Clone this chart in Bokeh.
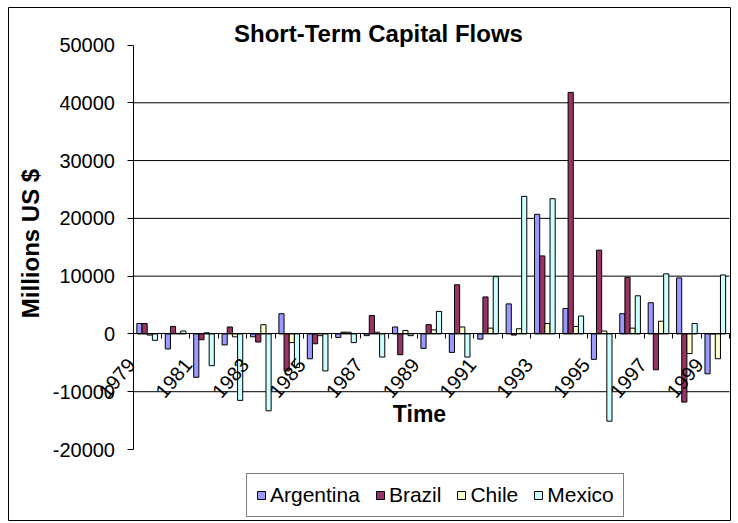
import math
from bokeh.plotting import figure
from bokeh.models import (Range1d, FixedTicker, Legend, LegendItem, LinearAxis,
                          ColumnDataSource, NumeralTickFormatter, Label, Grid)
from bokeh.transform import dodge
from bokeh.embed import file_html
from bokeh.resources import INLINE

# ---- data (millions US $) ----
years = list(range(1979, 2000))
argentina = [1800, -2600, -7500, -1900, -500, 3500, -4300, -600, -300, 1200,
             -2500, -3200, -900, 5200, 20700, 4400, -4400, 3500, 5400, 9700, -6900]
brazil = [1800, 1300, -1000, 1200, -1400, -6400, -1700, 300, 3200, -3600,
          1600, 8500, 6400, -200, 13500, 41800, 14500, 9800, -6200, -11800, 0]
chile = [-200, 100, 200, -500, 1600, -1500, -300, 300, 300, 600,
         700, 1200, 1000, 900, 1800, 1300, 500, 1000, 2200, -3400, -4300]
mexico = [-1100, 500, -5500, -11500, -13300, -5800, -6400, -1500, -4000, -300,
          3900, -4000, 9900, 23800, 23400, 3100, -15100, 6600, 10400, 1800, 10200]
series_names = ["Argentina", "Brazil", "Chile", "Mexico"]
tick_years = years[::2]
tick_labels = [str(y) for y in tick_years]
y_ticks = [-20000, -10000, 0, 10000, 20000, 30000, 40000, 50000]
grid_ticks = [-10000, 10000, 20000, 30000, 40000]

colors = ["#9999FF", "#993366", "#FFFFCC", "#CCFFFF"]
FONT = "Liberation Sans"

# ---- layout geometry (pixels) ----
W, H = 738, 523
BOX_L, BOX_R, BOX_T, BOX_B = 8, 730, 7, 520          # chart-area border
PA_L, PA_R, PA_T, PA_B = 132.5, 729.0, 44.5, 449.0   # plot area

x_lo, x_hi = years[0] - 0.5, years[-1] + 0.5
y_lo, y_hi = y_ticks[0], y_ticks[-1]
sx = (PA_R - PA_L) / (x_hi - x_lo)
sy = (PA_B - PA_T) / (y_hi - y_lo)
x_range = Range1d(x_lo - (PA_L - BOX_L) / sx, x_hi + (BOX_R - PA_R) / sx)
y_range = Range1d(y_lo - (BOX_B - PA_B) / sy, y_hi + (PA_T - BOX_T) / sy)

src = ColumnDataSource(dict(year=years, Argentina=argentina, Brazil=brazil,
                            Chile=chile, Mexico=mexico))

p = figure(width=W, height=H, output_backend="svg", toolbar_location=None,
           title=None, x_range=x_range, y_range=y_range,
           x_axis_location=None, y_axis_location=None,
           min_border_left=BOX_L, min_border_right=W - BOX_R,
           min_border_top=BOX_T, min_border_bottom=H - BOX_B)
for r in list(p.center):
    if isinstance(r, Grid):
        r.visible = False
p.outline_line_color = "black"
p.outline_line_width = 1
p.background_fill_color = "white"
p.border_fill_color = "white"

# horizontal gridlines across the plot area only
p.segment(x0=[x_lo] * len(grid_ticks), x1=[x_hi] * len(grid_ticks),
          y0=grid_ticks, y1=grid_ticks, line_color="black", line_width=1)

bw = 1 / 5.5
offsets = [-1.5 * bw, -0.5 * bw, 0.5 * bw, 1.5 * bw]
items = []
for name, col, off in zip(series_names, colors, offsets):
    r = p.vbar(x=dodge("year", off, range=p.x_range), top=name, bottom=0,
               width=bw, source=src, fill_color=col, line_color="black",
               line_width=1)
    items.append(LegendItem(label=name, renderers=[r]))

# category axis crossing at zero, labels every other year
LAB_SHIFT = 0.5625
lab_pos = [y - LAB_SHIFT for y in tick_years]
xa = LinearAxis(fixed_location=0, bounds=(x_lo, x_hi))
xa.ticker = FixedTicker(ticks=lab_pos,
                        minor_ticks=[y - 0.5 for y in years] + [x_hi])
xa.major_label_overrides = {pos: lab for pos, lab in zip(lab_pos, tick_labels)}
xa.major_tick_out = 0
xa.major_tick_in = 0
xa.minor_tick_out = 5
xa.minor_tick_in = 0
xa.minor_tick_line_color = "black"
xa.axis_line_color = "black"
xa.major_label_orientation = 0.8727
xa.major_label_text_font = FONT
xa.major_label_text_font_size = "20px"
xa.major_label_text_color = "black"
xa.major_label_standoff = 22
p.add_layout(xa, "below")

ya = LinearAxis(fixed_location=x_lo, bounds=(y_lo, y_hi))
ya.ticker = FixedTicker(ticks=y_ticks, minor_ticks=[])
ya.formatter = NumeralTickFormatter(format="0")
ya.major_tick_out = 6
ya.major_tick_in = 0
ya.minor_tick_out = 0
ya.minor_tick_in = 0
ya.major_tick_line_color = "black"
ya.axis_line_color = "black"
ya.major_label_text_font = FONT
ya.major_label_text_font_size = "20px"
ya.major_label_text_color = "black"
ya.major_label_standoff = 12
p.add_layout(ya, "left")

# titles (screen units measured from frame bottom-left)
p.add_layout(Label(x=378 - BOX_L, y=BOX_B - 33, x_units="screen", y_units="screen",
                   text="Short-Term Capital Flows", text_font=FONT,
                   text_font_size="24px", text_font_style="bold",
                   text_color="black", text_align="center",
                   text_baseline="middle"))
p.add_layout(Label(x=419 - BOX_L, y=BOX_B - 413, x_units="screen", y_units="screen",
                   text="Time", text_font=FONT, text_font_size="23px",
                   text_font_style="bold", text_color="black",
                   text_align="center", text_baseline="middle"))
p.add_layout(Label(x=30 - BOX_L, y=BOX_B - 243, x_units="screen", y_units="screen",
                   text="Millions US $", angle=math.pi / 2, text_font=FONT,
                   text_font_size="24px", text_font_style="bold",
                   text_color="black", text_align="center",
                   text_baseline="middle"))

legend = Legend(items=items, orientation="horizontal",
                location=(246 - BOX_L, BOX_B - 517))
legend.border_line_color = "black"
legend.border_line_width = 1
legend.background_fill_color = "white"
legend.background_fill_alpha = 1
legend.label_text_font = FONT
legend.label_text_font_size = "21px"
legend.label_text_color = "black"
legend.glyph_width = 10
legend.glyph_height = 10
legend.label_standoff = 4
legend.spacing = 15
legend.padding = 9
legend.margin = 0
p.add_layout(legend)

open("out.html", "w").write(file_html(p, INLINE))
